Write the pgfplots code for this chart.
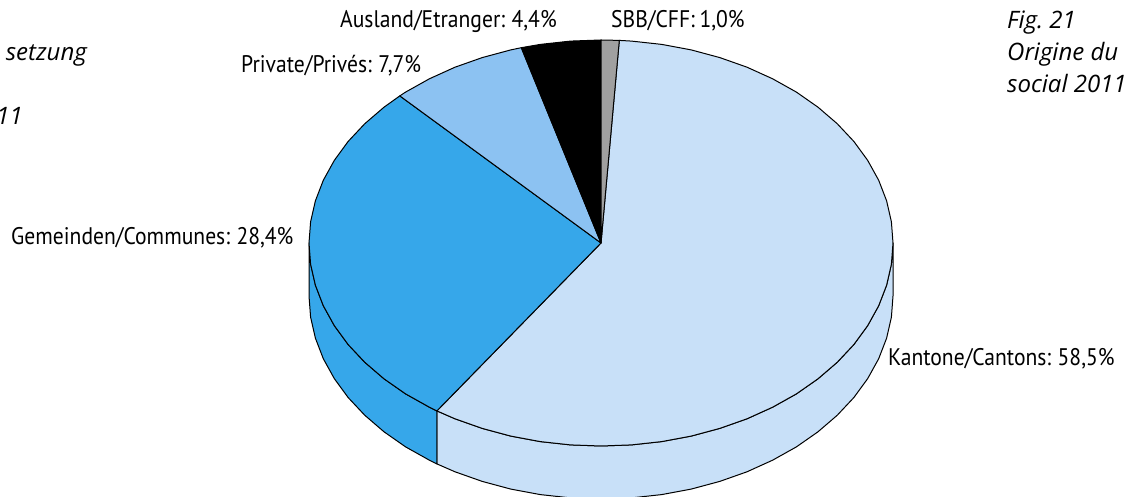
\documentclass[border=0pt]{standalone}
\usepackage{fontspec}
\setmainfont[FakeStretch=0.90,WordSpace=0.8]{PT Sans}
\newfontfamily\itfont{Open Sans}
\usepackage{pgfplots}
\pgfplotsset{compat=1.18}
\definecolor{kant}{HTML}{C8E0F8}
\definecolor{gem}{HTML}{36A7EA}
\definecolor{priv}{HTML}{8CC2F2}
\definecolor{sbb}{HTML}{A0A0A0}
\tikzset{
  lbl/.style={font=\fontsize{24}{26}\selectfont,inner sep=0pt,anchor=base west},
  figcap/.style={font=\fontsize{24}{26}\selectfont\itfont\itshape\frenchspacing,inner sep=0pt},
}
\begin{document}
\begin{tikzpicture}
\clip (0,0) rectangle (1128pt,497pt);
\begin{axis}[
  at={(0,0)},anchor=south west,
  hide axis,scale only axis,
  width=1128pt,height=497pt,
  xmin=0,xmax=1128,ymin=0,ymax=497,
  clip=false,
  every axis plot/.append style={draw=black,line width=1pt,line join=round},
]
% rim
\addplot[fill=kant] coordinates {
  (893,254) (891.4,232.8) (886.6,211.8) (878.7,191.3) (867.7,171.4) (853.9,152.5)
  (837.2,134.7) (818,118.2) (796.4,103.1) (772.6,89.8) (747,78.2) (719.8,68.6)
  (691.2,60.9) (661.7,55.4) (631.5,52.1) (601,51) (570.5,52.1) (540.3,55.4)
  (510.8,60.9) (482.2,68.6) (455,78.2) (436.9,86.1)
  (436.9,33.1) (455,25.2) (482.2,15.6) (510.8,7.9) (540.3,2.4) (570.5,-0.9)
  (601,-2) (631.5,-0.9) (661.7,2.4) (691.2,7.9) (719.8,15.6) (747,25.2)
  (772.6,36.8) (796.4,50.1) (818,65.2) (837.2,81.7) (853.9,99.5) (867.7,118.4)
  (878.7,138.3) (886.6,158.8) (891.4,179.8) (893,201)
} -- cycle;
\addplot[fill=gem] coordinates {
  (436.9,86.1) (429.4,89.8) (405.6,103.1) (384,118.2) (364.8,134.7) (348.1,152.5)
  (334.3,171.4) (323.3,191.3) (315.4,211.8) (310.6,232.8) (309,254)
  (309,201) (310.6,179.8) (315.4,158.8) (323.3,138.3) (334.3,118.4) (348.1,99.5)
  (364.8,81.7) (384,65.2) (405.6,50.1) (429.4,36.8) (436.9,33.1)
} -- cycle;
% top face
\addplot[fill=kant] coordinates {
  (601,254) (619.3,456.6) (631.5,455.9) (661.7,452.6) (691.2,447.1) (719.8,439.4)
  (747,429.8) (772.6,418.2) (796.4,404.9) (818,389.8) (837.2,373.3) (853.9,355.5)
  (867.7,336.6) (878.7,316.7) (886.6,296.2) (891.4,275.2) (893,254) (891.4,232.8)
  (886.6,211.8) (878.7,191.3) (867.7,171.4) (853.9,152.5) (837.2,134.7) (818,118.2)
  (796.4,103.1) (772.6,89.8) (747,78.2) (719.8,68.6) (691.2,60.9) (661.7,55.4)
  (631.5,52.1) (601,51) (570.5,52.1) (540.3,55.4) (510.8,60.9) (482.2,68.6)
  (455,78.2) (436.9,86.1)
} -- cycle;
\addplot[fill=gem] coordinates {
  (601,254) (436.9,86.1) (429.4,89.8) (405.6,103.1) (384,118.2) (364.8,134.7)
  (348.1,152.5) (334.3,171.4) (323.3,191.3) (315.4,211.8) (310.6,232.8) (309,254)
  (310.6,275.2) (315.4,296.2) (323.3,316.7) (334.3,336.6) (348.1,355.5) (364.8,373.3)
  (384,389.8) (399.8,401.1)
} -- cycle;
\addplot[fill=priv] coordinates {
  (601,254) (399.8,401.1) (405.6,404.9) (429.4,418.2) (455,429.8) (482.2,439.4)
  (510.8,447.1) (521.3,449.3)
} -- cycle;
\addplot[fill=black] coordinates {
  (601,254) (521.3,449.3) (540.3,452.6) (570.5,455.9) (601,457)
} -- cycle;
\addplot[fill=sbb] coordinates {
  (601,254) (601,457) (619.3,456.6)
} -- cycle;
% labels
\node[lbl] at (axis cs:340,469) {Ausland/Etranger: 4,4\%};
\node[lbl] at (axis cs:611,469) {SBB/CFF: 1,0\%};
\node[lbl] at (axis cs:241,424) {Private/Privés: 7,7\%};
\node[lbl] at (axis cs:11,252) {Gemeinden/Communes: 28,4\%};
\node[lbl] at (axis cs:888,131) {Kantone/Cantons: 58,5\%};
\node[figcap,anchor=base west] at (axis cs:1007,468) {Fig. 21};
\node[figcap,anchor=base west] at (axis cs:1007,436) {Origine du};
\node[figcap,anchor=base west] at (axis cs:1007,404) {social 2011};
\node[figcap,anchor=base east] at (axis cs:87,436) {setzung};
\node[figcap,anchor=base east] at (axis cs:23,372) {11};
\end{axis}
\end{tikzpicture}
\end{document}
